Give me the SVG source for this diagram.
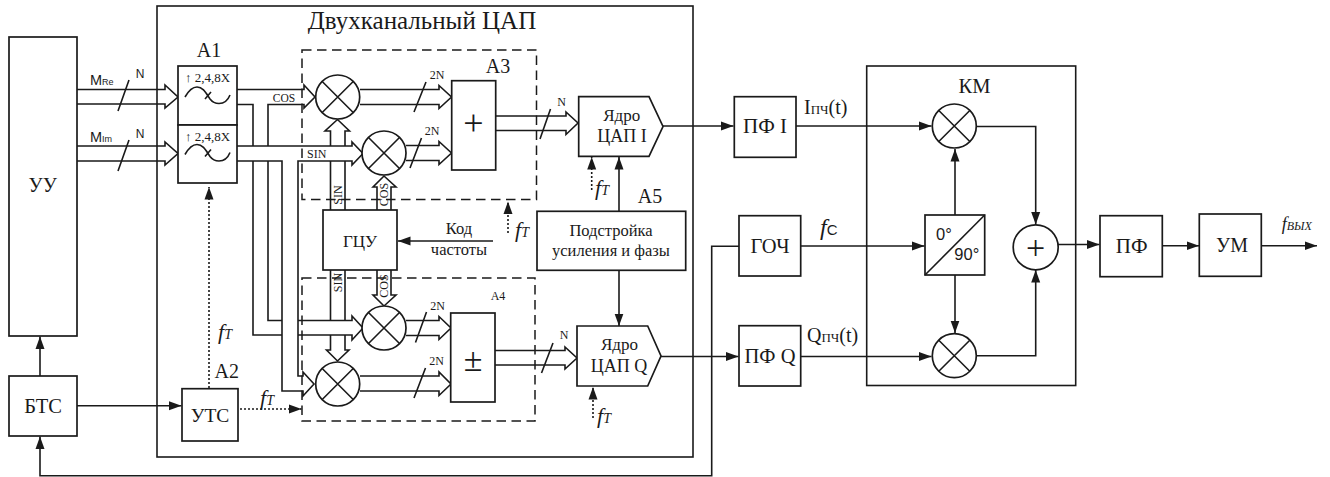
<svg xmlns="http://www.w3.org/2000/svg" width="1330" height="477" viewBox="0 0 1330 477">
<style>
text{font-family:"Liberation Serif","Times New Roman",serif;fill:#1a1a1a;text-anchor:middle}
.s{font-family:"Liberation Sans",Arial,sans-serif}
.st{text-anchor:start}
.i{font-style:italic}
.b{fill:#fff;stroke:#1a1a1a;stroke-width:1.7}
.f{fill:none;stroke:#1a1a1a;stroke-width:1.6}
.l{fill:none;stroke:#1a1a1a;stroke-width:1.6}
.a{fill:none;stroke:#1a1a1a;stroke-width:1.6;marker-end:url(#ah)}
.d{fill:none;stroke:#1a1a1a;stroke-width:1.6;stroke-dasharray:2 2;marker-end:url(#ah)}
.da{fill:none;stroke:#1a1a1a;stroke-width:1.5;stroke-dasharray:9.5 5.5}
.t20{font-size:20px}.t10{font-size:12px}.t16{font-size:16.5px}.c{font-size:18px}
.ft{font-size:22px}.ft tspan{font-size:14px}
</style>
<defs>
<marker id="ah" markerUnits="userSpaceOnUse" markerWidth="13" markerHeight="11" refX="12.5" refY="5.5" orient="auto"><path d="M0,1L12.5,5.5L0,10Z" fill="#1a1a1a"/></marker>
<g id="mix"><circle r="22" class="b"/><path class="f" d="M-15.5,-15.5L15.5,15.5M-15.5,15.5L15.5,-15.5"/></g>
<path id="wave" class="f" d="M185,97C189,90 193,87 197,87C203,87 206,93 210,99C213,103 216,103.5 219,103.5C224,103.5 228,100 230,95M205,99L211,92"/>
</defs>

<g id="dac-frame"><rect x="157" y="6" width="536" height="451" class="f"/><text x="422" y="29" font-size="25">Двухканальный ЦАП</text></g>
<g id="km-frame"><rect x="866.7" y="66" width="209" height="319.5" class="f"/><text x="974.5" y="93" font-size="20.5">КМ</text></g>
<g id="a3-frame"><rect x="302" y="50" width="234.5" height="149.5" class="da"/></g>
<g id="a4-frame"><rect x="302" y="278" width="233" height="143" class="da"/></g>

<g id="connectors">
<path class="l" d="M77,89.5H165V85L178,97L165,108V104H77M77,146H165V142L178,153.5L165,165V161H77"/>
<path class="l" d="M118,111L129,80M118,171L129,140"/>
<path class="l" d="M237,89.5H304V85L315,97L304,108V104.5H268V146M237,104.5H253V146"/>
<path class="l" d="M237,146H352V142L363,153.5L352,165V161H298V376H303V372L314,384L303,396V391H282V161H237"/>
<path class="l" d="M253,161V335H282M268,161V320.5H282M298,320.5H352V316L363,328L352,340V335H298"/>
<path class="l" d="M330.5,210V161M345,210V161M330.5,146V131H325L337.5,119.5L349.5,131H345V146"/>
<path class="l" d="M377,210V187H373L384,176L396,187H391V210"/>
<path class="l" d="M330.5,270V320.5M345,270V320.5M330.5,335V350H326.5L337.5,361L349,350H345V335"/>
<path class="l" d="M377,270V295H373L384,306L396,295H391V270"/>
<path class="l" d="M360,89.5H439V85.5L451.5,97L439,108.5V104.5H360M406,145.5H439V141.5L451.5,153L439,164.5V160.5H406"/>
<path class="l" d="M414,112L426,82M410,168L421.5,138"/>
<path class="l" d="M496,116H566V112L578,123L566,134.5V130.5H496"/>
<path class="l" d="M540,139L550.5,109"/>
<path class="l" d="M406,320.5H439V316.5L451,328L439,339.5V335.5H406M360,376H439V372L451,384L439,395.5V391H360"/>
<path class="l" d="M415.5,342.5L426.5,312M414,398L425.5,368"/>
<path class="l" d="M495,350.5H565V347L577,358L565,369V365H495"/>
<path class="l" d="M541.5,373L553,343"/>
<path class="a" d="M40,376V336.5"/>
<path class="a" d="M77,405.7H181.5"/>
<path class="a" d="M739,246.3H711.7V475.7H40V436.5"/>
<path class="d" d="M209,388V187"/>
<path class="d" d="M240,409H301.5"/>
<path class="d" d="M508,233V201.5"/>
<path class="d" d="M591.7,190V157"/>
<path class="d" d="M593,418V387"/>
<path class="a" d="M493,241H398"/>
<path class="a" d="M619,211V157"/>
<path class="a" d="M619,270V326"/>
<path class="a" d="M663,126H733.5"/>
<path class="a" d="M661,356.5H738.5"/>
<path class="a" d="M796,126H931.5"/>
<path class="a" d="M801,246H924.5"/>
<path class="a" d="M801,356.5H931.5"/>
<path class="a" d="M955,215V149"/>
<path class="a" d="M955,275V333"/>
<path class="a" d="M977,126.5H1035.7V224.5"/>
<path class="a" d="M977,355.7H1035.7V270"/>
<path class="a" d="M1058,244.5H1099.5"/>
<path class="a" d="M1162,245.7H1199"/>
<path class="a" d="M1261,245.7H1317"/>
</g>

<g id="uu"><rect x="9" y="37" width="68" height="299" class="b"/><text x="42.7" y="192" class="t20">УУ</text></g>
<g id="bts"><rect x="9" y="376" width="68" height="60" class="b"/><text x="43" y="413" font-size="20.5">БТС</text></g>
<g id="a1"><rect x="178" y="66" width="59" height="59" class="b"/><rect x="178" y="125" width="59" height="58" class="b"/>
<text x="207.5" y="82" font-size="13">↑ 2,4,8X</text><text x="207.5" y="141" font-size="13">↑ 2,4,8X</text>
<use href="#wave"/><use href="#wave" y="57.5"/></g>
<g id="uts"><rect x="182" y="388.7" width="56" height="52.3" class="b"/><text x="210" y="422" font-size="19.5">УТС</text></g>
<g id="gcu"><rect x="323" y="210" width="74" height="60" class="b"/><text x="360" y="247" font-size="17">ГЦУ</text></g>
<g id="mix1"><use href="#mix" x="337.7" y="97"/></g>
<g id="mix2"><use href="#mix" x="384" y="153"/></g>
<g id="mix3"><use href="#mix" x="384" y="328"/></g>
<g id="mix4"><use href="#mix" x="337.7" y="384"/></g>
<g id="sum-a3"><rect x="451.7" y="80.7" width="44" height="89.3" class="b"/><text x="473.5" y="135" font-size="36">+</text></g>
<g id="sum-a4"><rect x="450.7" y="313" width="44.3" height="89" class="b"/><text x="473" y="371" font-size="34">±</text></g>
<g id="core-i"><path class="b" d="M578.7,96.7H649L663,126.5L649,156.3H578.7Z"/><text x="621.7" y="120.7" font-size="17">Ядро</text><text x="622" y="142" font-size="18">ЦАП I</text></g>
<g id="core-q"><path class="b" d="M577,326H647.7L661,356L647.7,386H577Z"/><text x="619.5" y="350" font-size="17">Ядро</text><text x="619" y="372" font-size="18">ЦАП Q</text></g>
<g id="a5"><rect x="537" y="211.3" width="148.7" height="59" class="b"/><text x="611" y="236" class="t16">Подстройка</text><text x="611" y="255.7" class="t16">усиления и фазы</text></g>
<g id="pf-i"><rect x="734.3" y="96.7" width="61.7" height="60.6" class="b"/><text x="765" y="133" font-size="21">ПФ I</text></g>
<g id="goch"><rect x="739" y="215.7" width="61.7" height="60.3" class="b"/><text x="770" y="252.7" font-size="20.5">ГОЧ</text></g>
<g id="pf-q"><rect x="739" y="325.7" width="61.7" height="60.3" class="b"/><text x="770" y="363" font-size="20.5">ПФ Q</text></g>
<g id="mix5"><use href="#mix" x="954.3" y="126"/></g>
<g id="mix6"><use href="#mix" x="954.3" y="355.7"/></g>
<g id="phase"><rect x="925" y="215" width="59.7" height="60" class="b"/><path class="f" d="M925,275L984.7,215"/><text x="936" y="240" class="s st" font-size="16.5">0°</text><text x="954.3" y="260" class="s st" font-size="16.5">90°</text></g>
<g id="sum"><circle cx="1035.7" cy="247.3" r="22.5" class="b"/><text x="1035.7" y="259" font-size="34">+</text></g>
<g id="pf"><rect x="1100" y="215.7" width="62.3" height="61" class="b"/><text x="1131.7" y="252.7" font-size="21">ПФ</text></g>
<g id="um"><rect x="1199.3" y="214" width="62" height="62.3" class="b"/><text x="1232" y="252.3" class="t20">УМ</text></g>

<g id="labels">
<text x="209" y="57" class="t20">А1</text>
<text x="226.7" y="377.7" class="t20">А2</text>
<text x="498" y="72.7" class="t20">А3</text>
<text x="498" y="299.7" font-size="12">А4</text>
<text x="650" y="202.7" class="t20">А5</text>
<text x="90" y="84.7" class="s st" font-size="14.5">M<tspan font-size="9">Re</tspan></text>
<text x="90" y="141.7" class="s st" font-size="14.5">M<tspan font-size="9">Im</tspan></text>
<text x="140" y="78" class="s t10">N</text>
<text x="140" y="138" class="s t10">N</text>
<text x="284" y="102" font-size="11.5">COS</text>
<text x="316.7" y="158" class="t10">SIN</text>
<text transform="translate(342 195) rotate(-90)" class="t10">SIN</text>
<text transform="translate(388 194.5) rotate(-90)" class="t10">COS</text>
<text transform="translate(342 282.5) rotate(-90)" class="t10">SIN</text>
<text transform="translate(388 286) rotate(-90)" class="t10">COS</text>
<text x="437" y="79" class="t10">2N</text>
<text x="432" y="135" class="t10">2N</text>
<text x="437.7" y="309.7" class="t10">2N</text>
<text x="436.7" y="364.7" class="t10">2N</text>
<text x="561.7" y="106" class="t10">N</text>
<text x="564" y="339" class="t10">N</text>
<text x="459" y="234" class="t16">Код</text>
<text x="459" y="254.7" class="t16">частоты</text>
<text x="218" y="338.7" class="i st ft">f<tspan>T</tspan></text>
<text x="260" y="405" class="i st ft">f<tspan>T</tspan></text>
<text x="515" y="236.7" class="i st ft">f<tspan>T</tspan></text>
<text x="595" y="195" class="i st ft">f<tspan>T</tspan></text>
<text x="597" y="423" class="i st ft">f<tspan>T</tspan></text>
<text x="804" y="114" class="st t20">I<tspan font-size="13">ПЧ</tspan>(t)</text>
<text x="807" y="342" class="st t20">Q<tspan font-size="13">ПЧ</tspan>(t)</text>
<text x="820" y="235" class="i st" font-size="24">f<tspan class="s" font-style="normal" font-size="15">C</tspan></text>
<text x="1281.7" y="230" class="i st" font-size="18">f<tspan font-size="12">ВЫХ</tspan></text>
</g>
</svg>
